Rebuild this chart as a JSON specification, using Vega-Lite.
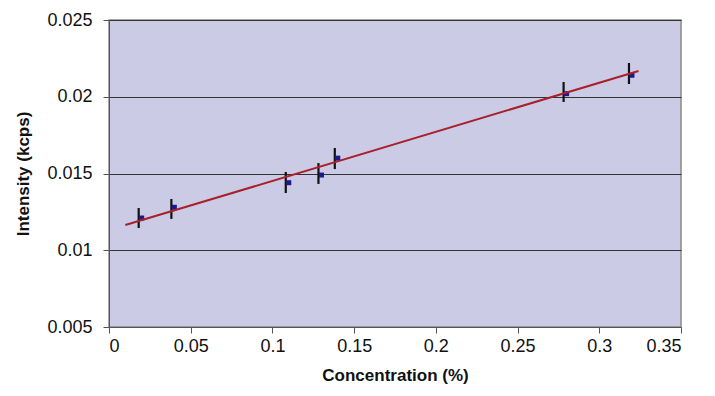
{
  "$schema": "https://vega.github.io/schema/vega-lite/v6.json",
  "autosize": "none",
  "width": 572,
  "height": 307,
  "padding": {"left": 109, "top": 20, "right": 34, "bottom": 69},
  "background": "white",
  "config": {
    "font": "Liberation Sans",
    "view": {"fill": "#cbcbe6", "stroke": "#8a8a8a", "strokeWidth": 1.5},
    "axis": {
      "labelFont": "Liberation Sans",
      "labelFontSize": 18,
      "labelColor": "#111",
      "titleFont": "Liberation Sans",
      "titleFontSize": 17,
      "titleFontWeight": "bold",
      "titleColor": "#111",
      "domainColor": "#555",
      "tickColor": "#555",
      "tickSize": 6
    }
  },
  "datasets": {
    "pts": [
      {"conc": 0.02, "intensity": 0.0121, "lo": 0.01145, "hi": 0.01275},
      {"conc": 0.04, "intensity": 0.0128, "lo": 0.01204, "hi": 0.01334},
      {"conc": 0.11, "intensity": 0.0144, "lo": 0.01373, "hi": 0.01510},
      {"conc": 0.13, "intensity": 0.0149, "lo": 0.01432, "hi": 0.01568},
      {"conc": 0.14, "intensity": 0.0160, "lo": 0.01529, "hi": 0.01666},
      {"conc": 0.28, "intensity": 0.0202, "lo": 0.01966, "hi": 0.02096},
      {"conc": 0.32, "intensity": 0.0214, "lo": 0.02083, "hi": 0.02220}
    ],
    "trend": [
      {"conc": 0.01, "intensity": 0.01164},
      {"conc": 0.324, "intensity": 0.02168}
    ]
  },
  "layer": [
    {
      "data": {"name": "pts"},
      "mark": {"type": "rule", "color": "#111", "strokeWidth": 2.2, "xOffset": -3},
      "encoding": {
        "x": {
          "field": "conc", "type": "quantitative",
          "scale": {"domain": [0, 0.35], "nice": false},
          "axis": {"values": [0, 0.05, 0.1, 0.15, 0.2, 0.25, 0.3, 0.35], "format": "~g", "grid": false, "title": "Concentration (%)", "labelPadding": 4, "titlePadding": 12}
        },
        "y": {
          "field": "lo", "type": "quantitative",
          "scale": {"domain": [0.005, 0.025], "nice": false},
          "axis": {"values": [0.005, 0.01, 0.015, 0.02, 0.025], "format": "~g", "grid": true, "gridColor": "#333", "gridWidth": 1, "title": "Intensity (kcps)", "labelPadding": 11, "titlePadding": 14}
        },
        "y2": {"field": "hi"}
      }
    },
    {
      "data": {"name": "pts"},
      "mark": {"type": "square", "color": "#1a1a8c", "filled": true, "opacity": 1, "size": 25},
      "encoding": {
        "x": {"field": "conc", "type": "quantitative"},
        "y": {"field": "intensity", "type": "quantitative"}
      }
    },
    {
      "data": {"name": "trend"},
      "mark": {"type": "line", "color": "#a8202a", "strokeWidth": 2},
      "encoding": {
        "x": {"field": "conc", "type": "quantitative"},
        "y": {"field": "intensity", "type": "quantitative"}
      }
    }
  ]
}
